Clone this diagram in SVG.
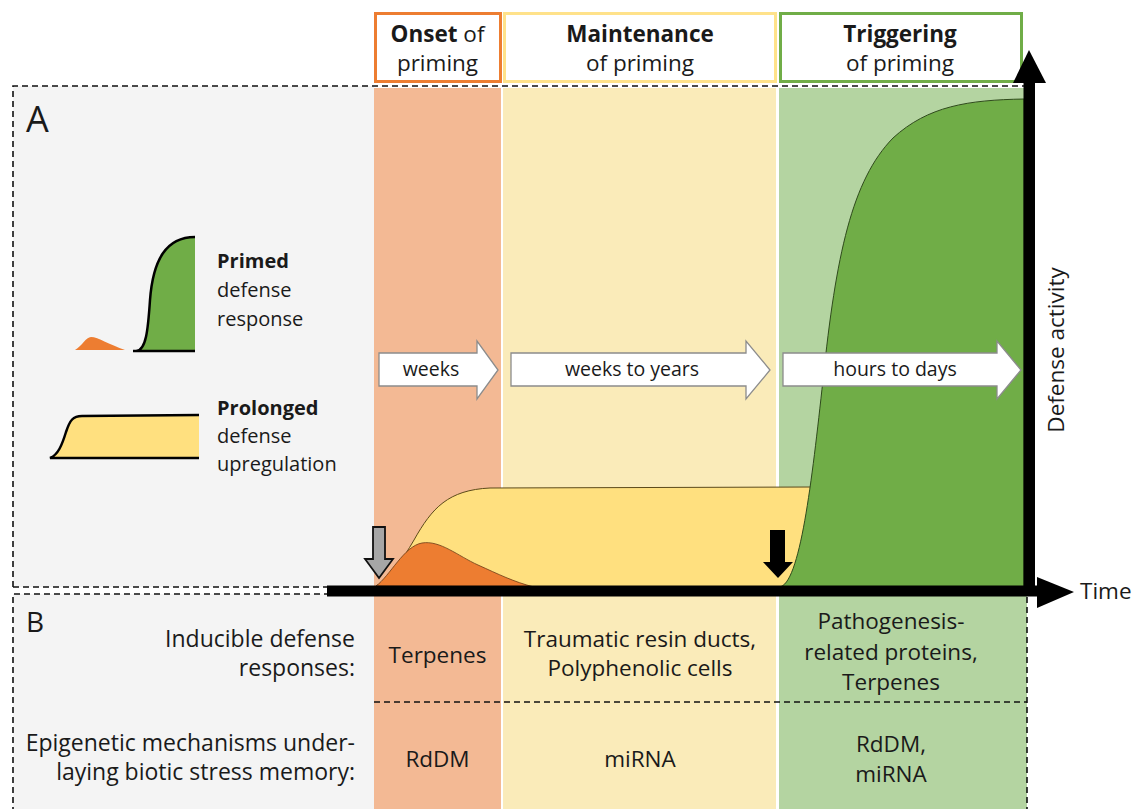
<svg xmlns="http://www.w3.org/2000/svg" width="1133" height="809" viewBox="0 0 1133 809">
<style>
text{font-family:"Open Sans","Liberation Sans",sans-serif;fill:#1a1a1a}
.t{font-size:22.5px}
.l{font-size:20px}
.a{font-size:19.5px;text-anchor:middle}
.m{text-anchor:middle}
.e{text-anchor:end}
.b{font-weight:bold}
.dash{fill:none;stroke:#111;stroke-width:1.6;stroke-dasharray:6 4}
.blk{fill:#fff;stroke:#8c8c8c;stroke-width:1.3}
.hdr{fill:#fff;stroke-width:3}
</style>
<rect width="1133" height="809" fill="#fff"/>
<g id="backgrounds">
<rect x="13" y="86" width="361" height="501" fill="#f4f4f4"/>
<rect x="13" y="594" width="361" height="215" fill="#f4f4f4"/>
<rect x="374" y="88" width="127" height="721" fill="#f3b994"/>
<rect x="503" y="88" width="273" height="721" fill="#faebb9"/>
<rect x="779" y="88" width="248" height="721" fill="#b4d4a1"/>
</g>
<g id="panel-borders">
<path class="dash" d="M13,587 V86 H1024"/>
<path class="dash" d="M13,587 H330"/>
<path class="dash" d="M330,594 H13 V809"/>
<path class="dash" d="M1027,597 V809"/>
<path class="dash" d="M374,702 H1027"/>
</g>
<g id="headers">
<g id="hdr-onset"><rect class="hdr" x="375.5" y="13.5" width="125" height="68" stroke="#ed7d31"/>
<text class="t m" x="437.5" y="42"><tspan class="b">Onset</tspan> of</text>
<text class="t m" x="437.5" y="71">priming</text></g>
<g id="hdr-maint"><rect class="hdr" x="504.5" y="13.5" width="271" height="68" stroke="#ffe28a"/>
<text class="t m b" x="640" y="42">Maintenance</text>
<text class="t m" x="640" y="71">of priming</text></g>
<g id="hdr-trig"><rect class="hdr" x="780.5" y="13.5" width="241" height="68" stroke="#70ad47"/>
<text class="t m b" x="900" y="42">Triggering</text>
<text class="t m" x="900" y="71">of priming</text></g>
</g>
<g id="curves">
<path id="yellow" d="M376,586 C392,578 402,560 414,540 C432,508 448,490 490,488 L812,487 L812,588 Z" fill="#ffe07f" stroke="#5c4a1a" stroke-width="1"/>
<path id="orange" d="M376,586 C390,576 404,546 422,543 C440,540 458,556 478,565 C498,574 514,582 534,587 Z" fill="#ed7d31" stroke="#6b3a14" stroke-width="0.8"/>
<path id="green" d="M779,587 C800,586 812,480 823,380 C836,255 852,180 893,138 C928,106 968,100 1024,99 L1024,587 Z" fill="#70ad47" stroke="#2f4a1c" stroke-width="1"/>
</g>
<g id="timeline-arrows">
<g id="arr-weeks"><path class="blk" d="M379,353 H477 V341 L498,370 L477,399 V386 H379 Z"/>
<text class="a" x="431" y="376">weeks</text></g>
<g id="arr-years"><path class="blk" d="M511,353 H746 V341 L770,370 L746,399 V386 H511 Z"/>
<text class="a" x="632" y="376">weeks to years</text></g>
<g id="arr-days"><path class="blk" d="M783,353 H997 V341 L1021,370 L997,399 V386 H783 Z"/>
<text class="a" x="895" y="376">hours to days</text></g>
</g>
<g id="trigger-arrows">
<path id="gray-arrow" d="M373,527 H385 V559 H393 L379,578 L365,559 H373 Z" fill="#a6a6a6" stroke="#111" stroke-width="1.8"/>
<path id="black-arrow" d="M770,530 H785 V562 H793 L778,578 L763,562 H770 Z" fill="#000"/>
</g>
<g id="axes">
<rect x="327" y="585.5" width="716" height="11" fill="#000"/>
<path d="M1037,577 L1074,592 L1037,608 Z" fill="#000"/>
<rect x="1023.5" y="80" width="11.5" height="516" fill="#000"/>
<path d="M1013,83 L1029,50 L1046,83 Z" fill="#000"/>
<text class="t" x="1080" y="599">Time</text>
<text class="t m" transform="translate(1064,350) rotate(-90)">Defense activity</text>
</g>
<g id="legend">
<g id="legend-primed">
<path d="M75,350 C82,346 86,337 91,337 C98,337 110,345 125,350 Z" fill="#ed7d31"/>
<path d="M133,351 L138,351 C146,351 148,330 150,300 C153,260 166,237 195,237 L195,351 Z" fill="#70ad47"/>
<path d="M195,351 H133 M136,351 C146,351 148,330 150,300 C153,260 166,237 195,237" fill="none" stroke="#000" stroke-width="2.5"/>
<text class="l b" x="217" y="268">Primed</text>
<text class="l" x="217" y="297">defense</text>
<text class="l" x="217" y="326">response</text>
</g>
<g id="legend-prolonged">
<path d="M50,458 C58,455 62,445 66,432 C70,420 73,416 82,416 L199,415 L199,458 Z" fill="#ffe07f"/>
<path d="M199,415 L82,416 C73,416 70,420 66,432 C62,445 58,455 50,458 L199,458" fill="none" stroke="#000" stroke-width="2.5"/>
<text class="l b" x="217" y="415">Prolonged</text>
<text class="l" x="217" y="443">defense</text>
<text class="l" x="217" y="471">upregulation</text>
</g>
</g>
<g id="panel-labels">
<text x="26" y="132" style="font-size:36px">A</text>
<text x="26" y="632" style="font-size:28px">B</text>
</g>
<g id="table">
<g id="row1-label"><text class="t e" x="355" y="647" style="font-size:23px">Inducible defense</text><text class="t e" x="355" y="676" style="font-size:23px">responses:</text></g>
<g id="row2-label"><text class="t e" x="355" y="751" style="font-size:23px">Epigenetic mechanisms under-</text><text class="t e" x="355" y="780" style="font-size:23px">laying biotic stress memory:</text></g>
<g id="c-onset-1"><text class="t m" x="437.5" y="663">Terpenes</text></g>
<g id="c-maint-1"><text class="t m" x="640" y="647">Traumatic resin ducts,</text><text class="t m" x="640" y="676">Polyphenolic cells</text></g>
<g id="c-trig-1"><text class="t m" x="891" y="629">Pathogenesis-</text><text class="t m" x="891" y="660">related proteins,</text><text class="t m" x="891" y="690">Terpenes</text></g>
<g id="c-onset-2"><text class="t m" x="437.5" y="767">RdDM</text></g>
<g id="c-maint-2"><text class="t m" x="640" y="767">miRNA</text></g>
<g id="c-trig-2"><text class="t m" x="891" y="752">RdDM,</text><text class="t m" x="891" y="782">miRNA</text></g>
</g>
</svg>
